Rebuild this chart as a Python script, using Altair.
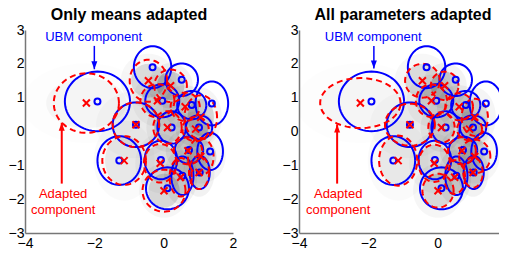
import numpy as np
import pandas as pd
import altair as alt

# UBM components (blue): centres and radii
ubm_x = [-1.91, -0.32, 0.52, -0.04, 0.81, 1.39, -0.80, 0.23, 1.02, -1.28, -0.08, 0.73, 1.34, 0.54, 1.04, 0.11]
ubm_y = [0.89, 1.90, 1.53, 0.91, 0.78, 0.83, 0.20, 0.12, 0.12, -0.86, -0.84, -0.55, -0.59, -1.31, -1.21, -1.68]
ubm_rx = [0.94, 0.54, 0.47, 0.49, 0.42, 0.47, 0.67, 0.41, 0.38, 0.63, 0.47, 0.41, 0.37, 0.32, 0.29, 0.62]
ubm_ry = [0.88, 0.62, 0.48, 0.49, 0.42, 0.65, 0.66, 0.48, 0.36, 0.72, 0.57, 0.40, 0.55, 0.57, 0.49, 0.62]

# adapted means (red x)
ad_x = [-2.23, -0.44, 0.20, -0.18, 0.62, 1.07, -0.80, 0.11, 0.92, -1.14, -0.10, 0.70, 1.07, 0.49, 1.02, 0.01]
ad_y = [0.84, 1.50, 1.35, 0.91, 0.73, 0.42, 0.20, 0.12, 0.07, -0.86, -0.94, -0.57, -0.74, -1.35, -1.21, -1.75]

# radii of the fully adapted components (right panel)
full_rx = [1.16, 0.50, 0.40, 0.45, 0.40, 0.38, 0.72, 0.38, 0.36, 0.55, 0.45, 0.40, 0.45, 0.30, 0.28, 0.45]
full_ry = [0.74, 0.50, 0.42, 0.48, 0.40, 0.55, 0.62, 0.45, 0.33, 0.74, 0.55, 0.40, 0.50, 0.50, 0.45, 0.50]

titles = ["Only means adapted", "All parameters adapted"]

# annotations per panel
ubm_text_x = [-2.02, -1.86]
ubm_text_y = [2.79, 2.79]
ubm_arrow_x = [-2.0, -1.84]
ubm_arrow_top = [2.53, 2.53]
ubm_arrow_tip = [1.84, 1.86]
ad_text_x = [-2.90, -2.87]
ad_text_y1 = [-1.86, -1.86]
ad_text_y2 = [-2.33, -2.33]
ad_arrow_x = [-2.94, -2.90]
ad_arrow_bottom = [-1.54, -1.54]
ad_arrow_tip = [0.26, 0.21]

BLUE = "#0000ff"
RED = "#ff0000"
FONT = "Liberation Sans"


def outline(cx, cy, rx, ry, n=72):
    rows = []
    th = np.linspace(0, 2 * np.pi, n + 1)
    for k, (x0, y0, a, b) in enumerate(zip(cx, cy, rx, ry)):
        for i, t in enumerate(th):
            rows.append({"comp": k, "i": i, "x": x0 + a * np.cos(t), "y": y0 + b * np.sin(t)})
    return pd.DataFrame(rows)


def filled(cx, cy, rx, ry, scale, strength, cap, n=40):
    # shading standing in for the sample cloud: darker where components are compact
    rows = []
    th = np.linspace(0, np.pi, n + 1)
    for k, (x0, y0, a, b) in enumerate(zip(cx, cy, rx, ry)):
        op = min(cap, strength / (a * b))
        for t in th:
            rows.append({"comp": k, "op": op, "x": x0 + scale * a * np.cos(t),
                         "y": y0 + scale * b * np.sin(t), "y2": y0 - scale * b * np.sin(t)})
    return pd.DataFrame(rows)


xs = alt.Scale(domain=[-4, 2], nice=False, zero=False)
ys = alt.Scale(domain=[-3, 3], nice=False, zero=False)
xax = alt.Axis(values=[-4, -2, 0, 2], title=None, grid=False, ticks=False, labelFlush=False,
               labelFontSize=14, labelFont=FONT, labelColor="#000", domainColor="#777",
               domainWidth=1.5, labelPadding=3)
yax = alt.Axis(values=[-3, -2, -1, 0, 1, 2, 3], title=None, grid=False, ticks=False, labelFlush=False,
               labelFontSize=14, labelFont=FONT, labelColor="#000", domainColor="#777",
               domainWidth=1.5, labelPadding=1)


def X():
    return alt.X("x:Q", scale=xs, axis=xax)


def Y():
    return alt.Y("y:Q", scale=ys, axis=yax)


def panel(p):
    if p == 0:
        rx, ry = ubm_rx, ubm_ry
    else:
        rx, ry = full_rx, full_ry
    core = alt.Chart(filled(ad_x, ad_y, full_rx, full_ry, 1.0, 0.028, 0.16)).mark_area(
        color="#000", clip=True).encode(x=X(), y=Y(), y2="y2:Q", detail="comp:N",
                                        opacity=alt.Opacity("op:Q", scale=None))
    tail = alt.Chart(filled(ad_x, ad_y, full_rx, full_ry, 1.6, 0.008, 0.05)).mark_area(
        color="#000", clip=True).encode(x=X(), y=Y(), y2="y2:Q", detail="comp:N",
                                        opacity=alt.Opacity("op:Q", scale=None))
    blue = alt.Chart(outline(ubm_x, ubm_y, ubm_rx, ubm_ry)).mark_line(
        color=BLUE, strokeWidth=2, clip=True).encode(x=X(), y=Y(), detail="comp:N", order="i:Q")
    red = alt.Chart(outline(ad_x, ad_y, rx, ry)).mark_line(
        color=RED, strokeWidth=2, strokeDash=[6, 4], clip=True).encode(
        x=X(), y=Y(), detail="comp:N", order="i:Q")
    bo = alt.Chart(pd.DataFrame({"x": ubm_x, "y": ubm_y})).mark_point(
        shape="circle", filled=False, color=BLUE, strokeWidth=2, size=36, opacity=1).encode(x=X(), y=Y())
    rxm = alt.Chart(pd.DataFrame({"x": ad_x, "y": ad_y})).mark_point(
        shape="M-1,-1L1,1M-1,1L1,-1", filled=False, color=RED, strokeWidth=2, size=49, opacity=1
    ).encode(x=X(), y=Y())
    # arrows
    ubm_shaft = alt.Chart(pd.DataFrame({"x": [ubm_arrow_x[p]] * 2, "y": [ubm_arrow_top[p], ubm_arrow_tip[p]]})
                          ).mark_line(color=BLUE, strokeWidth=1.5).encode(x=X(), y=Y())
    ubm_head = alt.Chart(pd.DataFrame({"x": [ubm_arrow_x[p]], "y": [ubm_arrow_tip[p]]})).mark_point(
        shape="M0,0L-0.75,-2L0.75,-2Z", filled=True, color=BLUE, size=64, opacity=1).encode(x=X(), y=Y())
    ad_shaft = alt.Chart(pd.DataFrame({"x": [ad_arrow_x[p]] * 2, "y": [ad_arrow_bottom[p], ad_arrow_tip[p]]})
                         ).mark_line(color=RED, strokeWidth=2).encode(x=X(), y=Y())
    ad_head = alt.Chart(pd.DataFrame({"x": [ad_arrow_x[p]], "y": [ad_arrow_tip[p]]})).mark_point(
        shape="M0,0L-0.75,2L0.75,2Z", filled=True, color=RED, size=64, opacity=1).encode(x=X(), y=Y())
    t_ubm = alt.Chart(pd.DataFrame({"x": [ubm_text_x[p]], "y": [ubm_text_y[p]], "t": ["UBM component"]})
                      ).mark_text(color=BLUE, fontSize=13, font=FONT, baseline="middle").encode(
        x=X(), y=Y(), text="t:N")
    t_ad = alt.Chart(pd.DataFrame({"x": [ad_text_x[p]] * 2, "y": [ad_text_y1[p], ad_text_y2[p]],
                                   "t": ["Adapted", "component"]})
                     ).mark_text(color=RED, fontSize=13, font=FONT, baseline="middle").encode(
        x=X(), y=Y(), text="t:N")
    return alt.layer(tail, core, blue, red, bo, rxm, ubm_shaft, ubm_head, ad_shaft, ad_head,
                     t_ubm, t_ad).properties(
        width=208, height=203,
        title=alt.TitleParams(titles[p], fontSize=16, font=FONT, fontWeight="bold",
                              anchor="middle", offset=0, frame="group", color="#000"))


chart = alt.hconcat(panel(0), panel(1), spacing=45).properties(
    padding={"left": 0, "top": -1, "right": -12, "bottom": -1}
).configure_view(stroke=None)

chart.save("out.html", embed_options={"renderer": "svg", "actions": False})
